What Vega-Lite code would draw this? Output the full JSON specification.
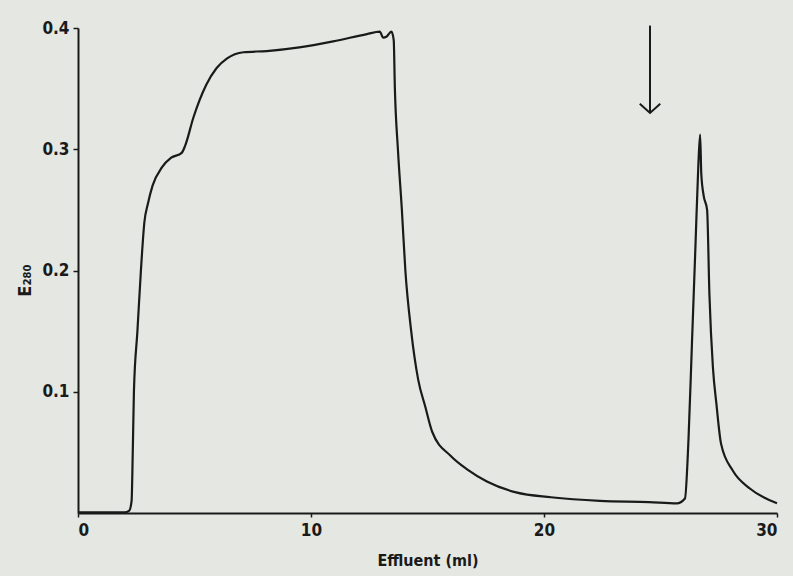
{
  "$schema": "https://vega.github.io/schema/vega-lite/v6.json",
  "autosize": "none",
  "width": 699,
  "height": 485,
  "padding": {"left": 78, "top": 28, "right": 16, "bottom": 63},
  "background": "#e5e8e2",
  "config": {
    "view": {"stroke": null},
    "font": "DejaVu Sans Condensed",
    "axis": {
      "domainColor": "#1a1a1a", "domainWidth": 2, "tickColor": "#1a1a1a", "tickWidth": 1.5,
      "labelColor": "#1a1a1a", "titleColor": "#1a1a1a", "grid": false,
      "labelFont": "DejaVu Sans Condensed", "titleFont": "DejaVu Sans Condensed",
      "labelFontWeight": "bold", "titleFontWeight": "bold"
    }
  },
  "datasets": {
    "trace": [
      {"ml": 0, "E": 0.0005}, {"ml": 1, "E": 0.0005}, {"ml": 2.0, "E": 0.0005}, {"ml": 2.2, "E": 0.002},
      {"ml": 2.3, "E": 0.01}, {"ml": 2.35, "E": 0.05}, {"ml": 2.4, "E": 0.1}, {"ml": 2.55, "E": 0.15},
      {"ml": 2.7, "E": 0.2}, {"ml": 2.85, "E": 0.24}, {"ml": 3.0, "E": 0.255}, {"ml": 3.2, "E": 0.27},
      {"ml": 3.6, "E": 0.285}, {"ml": 4.0, "E": 0.293}, {"ml": 4.45, "E": 0.297}, {"ml": 4.6, "E": 0.303},
      {"ml": 4.95, "E": 0.326}, {"ml": 5.5, "E": 0.353}, {"ml": 5.95, "E": 0.367}, {"ml": 6.4, "E": 0.375},
      {"ml": 7.1, "E": 0.38}, {"ml": 8.1, "E": 0.381}, {"ml": 9.5, "E": 0.384}, {"ml": 10.95, "E": 0.389},
      {"ml": 12.4, "E": 0.395}, {"ml": 12.95, "E": 0.397}, {"ml": 13.1, "E": 0.392}, {"ml": 13.25, "E": 0.393},
      {"ml": 13.45, "E": 0.397}, {"ml": 13.55, "E": 0.39}, {"ml": 13.6, "E": 0.35}, {"ml": 13.73, "E": 0.3},
      {"ml": 13.9, "E": 0.25}, {"ml": 14.05, "E": 0.2}, {"ml": 14.3, "E": 0.15}, {"ml": 14.6, "E": 0.11},
      {"ml": 14.9, "E": 0.088}, {"ml": 15.2, "E": 0.067}, {"ml": 16.0, "E": 0.047}, {"ml": 16.7, "E": 0.036},
      {"ml": 17.55, "E": 0.026}, {"ml": 18.8, "E": 0.017}, {"ml": 20.3, "E": 0.013}, {"ml": 22.4, "E": 0.01},
      {"ml": 24.5, "E": 0.009}, {"ml": 25.7, "E": 0.008}, {"ml": 26.05, "E": 0.012}, {"ml": 26.2, "E": 0.06},
      {"ml": 26.35, "E": 0.14}, {"ml": 26.5, "E": 0.22}, {"ml": 26.62, "E": 0.285}, {"ml": 26.7, "E": 0.312},
      {"ml": 26.75, "E": 0.28}, {"ml": 26.85, "E": 0.262}, {"ml": 27.0, "E": 0.25}, {"ml": 27.1, "E": 0.18},
      {"ml": 27.25, "E": 0.12}, {"ml": 27.4, "E": 0.09}, {"ml": 27.6, "E": 0.057}, {"ml": 28.1, "E": 0.035},
      {"ml": 28.85, "E": 0.02}, {"ml": 30.0, "E": 0.008}
    ],
    "arrow": [{"ml": 24.55, "top": 0.402, "tip": 0.33}]
  },
  "layer": [
    {
      "data": {"name": "trace"},
      "mark": {"type": "line", "color": "#1a1a1a", "strokeWidth": 2.2, "interpolate": "monotone"},
      "encoding": {
        "x": {"field": "ml", "type": "quantitative", "scale": {"domain": [0, 30], "nice": false},
          "axis": {"values": [0, 10, 20, 30], "title": "Effluent (ml)", "labelFontSize": 17, "titleFontSize": 16,
            "tickSize": 4, "labelPadding": 5, "titlePadding": 14}},
        "y": {"field": "E", "type": "quantitative", "scale": {"domain": [0, 0.4], "nice": false},
          "axis": {"values": [0.1, 0.2, 0.3, 0.4], "format": ".1f", "title": "E₂₈₀", "labelFontSize": 17, "titleFontSize": 18,
            "tickSize": 5, "labelPadding": 4, "titleX": -44, "titleY": 252}}
      }
    },
    {
      "data": {"name": "arrow"},
      "mark": {"type": "rule", "color": "#1a1a1a", "strokeWidth": 2},
      "encoding": {
        "x": {"field": "ml", "type": "quantitative"},
        "y": {"field": "top", "type": "quantitative"},
        "y2": {"field": "tip"}
      }
    },
    {
      "data": {"name": "arrow"},
      "mark": {"type": "point", "shape": "M-1,-0.9L0,0L1,-0.9", "filled": false, "stroke": "#1a1a1a", "strokeWidth": 2, "size": 420, "opacity": 1},
      "encoding": {
        "x": {"field": "ml", "type": "quantitative"},
        "y": {"field": "tip", "type": "quantitative"}
      }
    }
  ]
}
